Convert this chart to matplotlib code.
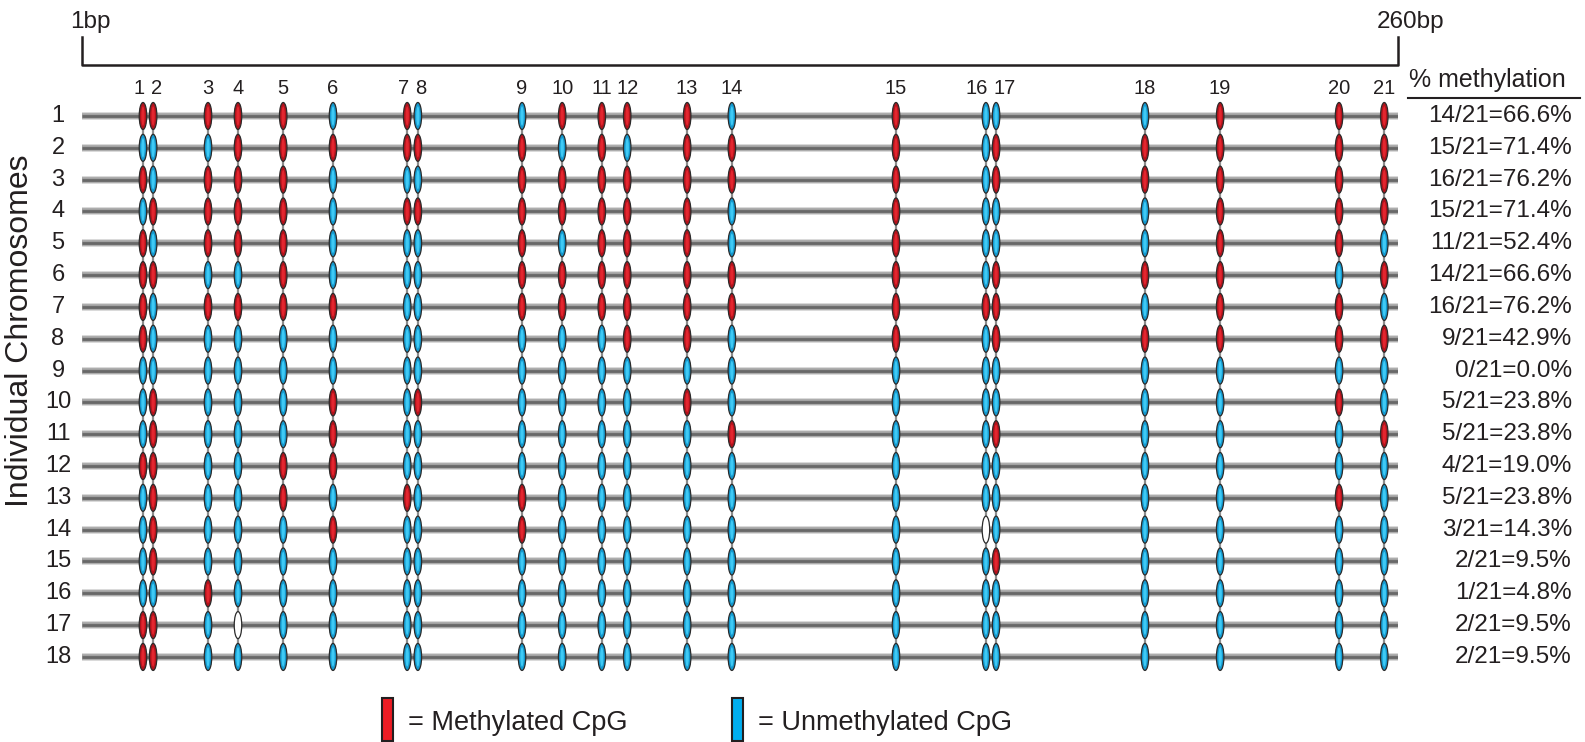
import numpy as np
import matplotlib.pyplot as plt
import matplotlib.transforms as mtransforms
from matplotlib.patches import Ellipse, Rectangle
from matplotlib.lines import Line2D

plt.rcParams['font.family'] = ['Liberation Sans', 'DejaVu Sans']

# amplicon and CpG sites (bp)
seq_start, seq_end = 1, 260
cpg_pos = [13.0, 15.0, 25.8, 31.7, 40.6, 50.4, 65.0, 67.1, 87.6, 95.5, 103.3,
           108.3, 120.1, 128.9, 161.2, 178.9, 180.9, 210.2, 225.0, 248.4, 257.3]
cpg_labels = [str(i) for i in range(1, 22)]
chrom_labels = [str(i) for i in range(1, 19)]

# M = methylated, U = unmethylated, N = no call
states = [
    "MMMMMUMU" + "UMMMMU" + "MUUUMMM",
    "UUUMMMMM" + "MUMUMM" + "MUMMMMM",
    "MUMMMUUU" + "MMMMMM" + "MUMMMMM",
    "UMMMMUMM" + "MMMMMU" + "MUUUMMM",
    "MUMMMUUU" + "MUMMMU" + "MUUUMMU",
    "MMUUMUUU" + "MMMMMM" + "MUMMMUM",
    "MUMMMMUU" + "MMMMMM" + "MMMUMMU",
    "MUUUUUUU" + "UUUMMU" + "MUMMMMM",
    "UUUUUUUU" + "UUUUUU" + "UUUUUUU",
    "UMUUUMUM" + "UUUUMU" + "UUUUUMU",
    "UMUUUMUU" + "UUUUUM" + "UUMUUUM",
    "MMUUMMUU" + "UUUUUU" + "UUUUUUU",
    "UMUUMUMU" + "MUUUUU" + "UUUUUMU",
    "UMUUUMUU" + "MUUUUU" + "UNUUUUU",
    "UMUUUUUU" + "UUUUUU" + "UUMUUUU",
    "UUMUUUUU" + "UUUUUU" + "UUUUUUU",
    "MMUNUUUU" + "UUUUUU" + "UUUUUUU",
    "MMUUUUUU" + "UUUUUU" + "UUUUUUU",
]
pct_labels = ["14/21=66.6%", "15/21=71.4%", "16/21=76.2%", "15/21=71.4%",
              "11/21=52.4%", "14/21=66.6%", "16/21=76.2%", "9/21=42.9%",
              "0/21=0.0%", "5/21=23.8%", "5/21=23.8%", "4/21=19.0%",
              "5/21=23.8%", "3/21=14.3%", "2/21=9.5%", "1/21=4.8%",
              "2/21=9.5%", "2/21=9.5%"]

W, H = 1585, 742
fig = plt.figure(figsize=(W / 100, H / 100), dpi=100)


def fx(x):
    return x / W


def fy(y):
    return 1 - y / H


row_px, step_px = 116, 31.82
ax = fig.add_axes([fx(82), fy(row_px + 17.5 * step_px), fx(1398) - fx(82), 18 * step_px / H])
ax.set_xlim(seq_start, seq_end)
ax.set_ylim(18.5, 0.5)
ax.axis('off')

trans_top = mtransforms.blended_transform_factory(ax.transData, fig.transFigure)
trans_side = mtransforms.blended_transform_factory(fig.transFigure, ax.transData)

ink = '#231f20'
rows = np.arange(1, len(states) + 1)

# chromosome bars
for r in rows:
    for c, w in [('#d6d6d6', 5.6), ('#a2a2a2', 4.0), ('#686868', 2.0)]:
        ax.plot([seq_start, seq_end], [r, r], color=c, lw=w, solid_capstyle='butt', zorder=1)

for x in cpg_pos:
    ax.plot([x, x], [rows[0], rows[-1]], color='#8c8c8c', lw=1.6, zorder=2)

colors = {'M': ('#b3121b', '#e3262f'), 'U': ('#1399cf', '#3fcaf5'), 'N': ('#ffffff', '#ffffff')}
ew = 7.5 / (1316 / 259)
eh = 27 / step_px
for i, row in enumerate(states):
    for j, s in enumerate(row):
        outer, inner = colors[s]
        ax.add_patch(Ellipse((cpg_pos[j], rows[i]), ew, eh, facecolor=outer,
                             edgecolor='#2b2b2b', lw=0.9, zorder=3))
        ax.add_patch(Ellipse((cpg_pos[j], rows[i]), ew * 0.45, eh * 0.72, facecolor=inner,
                             edgecolor='none', zorder=4))

# CpG numbers, nudged apart where two sites sit close together
for j, (x, lab) in enumerate(zip(cpg_pos, cpg_labels)):
    ha, dx = 'center', 0
    if j + 1 < len(cpg_pos) and cpg_pos[j + 1] - x < 4:
        ha, dx = 'right', 0.3
    elif j > 0 and x - cpg_pos[j - 1] < 4:
        ha, dx = 'left', -0.5
    ax.text(x + dx, fy(89), lab, transform=trans_top, ha=ha, va='center',
            fontsize=14.5, color=ink)

for r, lab, pct in zip(rows, chrom_labels, pct_labels):
    ax.text(fx(58), r, lab, transform=trans_side, ha='center', va='center',
            fontsize=17, color=ink)
    ax.text(fx(1572), r, pct, transform=trans_side, ha='right', va='center',
            fontsize=17.5, color=ink)

# bracket over the amplicon
ax.plot([seq_start, seq_start, seq_end, seq_end], [fy(37), fy(65), fy(65), fy(37)],
        transform=trans_top, color=ink, lw=1.8, clip_on=False)
fig.text(fx(70), fy(22), '1bp', ha='left', va='center', fontsize=17.5, color=ink)
fig.text(fx(1377), fy(22), '260bp', ha='left', va='center', fontsize=17.5, color=ink)

fig.text(fx(1409), fy(80), '% methylation', ha='left', va='center', fontsize=18, color=ink)
fig.add_artist(Line2D([fx(1408), fx(1580)], [fy(98), fy(98)], color=ink, lw=1.5))

fig.text(fx(20), fy(331), 'Individual Chromosomes', rotation=90, ha='center', va='center',
         fontsize=23, color=ink)

# legend
for x0, fc, txt in [(382, '#ed1c24', '= Methylated CpG'), (732, '#00aeef', '= Unmethylated CpG')]:
    fig.add_artist(Rectangle((fx(x0), fy(741)), fx(11), 43 / H, transform=fig.transFigure,
                             facecolor=fc, edgecolor=ink, lw=1.5))
    fig.text(fx(x0 + 26), fy(723), txt, ha='left', va='center', fontsize=19.5, color=ink)

fig.savefig('out.png', dpi=100)
